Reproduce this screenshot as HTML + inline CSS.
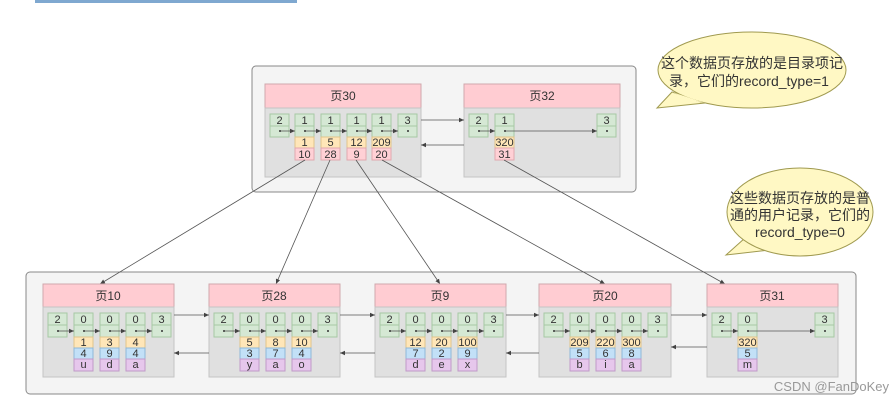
<!DOCTYPE html>
<html><head><meta charset="utf-8"><style>
html,body{margin:0;padding:0;background:#fff}
svg{display:block}
text{font-family:"Liberation Sans","Noto Sans CJK SC",sans-serif;font-size:11px;fill:#333;text-anchor:middle}
.g{fill:#d5e8d4;stroke:#a6c9a4;stroke-width:1}
.o{fill:#ffe6b8;stroke:#e0c48a;stroke-width:1}
.b{fill:#c2e0f7;stroke:#8fb8d8;stroke-width:1}
.p{fill:#e6c7ec;stroke:#c09ac8;stroke-width:1}
.r{fill:#ffd0d5;stroke:#e0a8ae;stroke-width:1}
.hd{fill:#ffccd2;stroke:#d0a8ad}
.bd{fill:#e0e0e0;stroke:#c4c4c4}
.ln{stroke:#555;stroke-width:0.8;fill:none}
.ht{font-size:12px}
.c{font-size:14px}
</style></head><body>
<svg width="893" height="404" viewBox="0 0 893 404" xmlns="http://www.w3.org/2000/svg">
<defs>
<marker id="a" markerWidth="6" markerHeight="6" refX="5" refY="3" orient="auto" markerUnits="userSpaceOnUse"><path d="M0,0.8 L5,3 L0,5.2z" fill="#444"/></marker>
</defs>
<rect x="35" y="0" width="262" height="3" fill="#7fa8d0"/>

<!-- top outer -->
<rect x="252" y="66" width="384" height="126" rx="4" fill="#f4f4f4" stroke="#888"/>
<rect class="hd" x="265" y="84" width="156" height="24"/><text class="ht" x="343" y="100">页30</text>
<rect class="bd" x="265" y="108" width="156" height="69"/>
<rect class="hd" x="464" y="84" width="156" height="24"/><text class="ht" x="542" y="100">页32</text>
<rect class="bd" x="464" y="108" width="156" height="69"/>

<g>
<rect class="g" x="270" y="114" width="19" height="12"/><rect class="g" x="270" y="126" width="19" height="11"/><text x="279.5" y="124">2</text>
<rect class="g" x="295" y="114" width="19" height="12"/><rect class="g" x="295" y="126" width="19" height="11"/><text x="304.5" y="124">1</text>
<rect class="g" x="321" y="114" width="19" height="12"/><rect class="g" x="321" y="126" width="19" height="11"/><text x="330.5" y="124">1</text>
<rect class="g" x="347" y="114" width="19" height="12"/><rect class="g" x="347" y="126" width="19" height="11"/><text x="356.5" y="124">1</text>
<rect class="g" x="372" y="114" width="19" height="12"/><rect class="g" x="372" y="126" width="19" height="11"/><text x="381.5" y="124">1</text>
<rect class="g" x="398" y="114" width="19" height="12"/><rect class="g" x="398" y="126" width="19" height="11"/><text x="407.5" y="124">3</text>
<rect class="o" x="295" y="137" width="19" height="11"/><rect class="r" x="295" y="148" width="19" height="12"/><text x="304.5" y="146">1</text><text x="304.5" y="158">10</text>
<rect class="o" x="321" y="137" width="19" height="11"/><rect class="r" x="321" y="148" width="19" height="12"/><text x="330.5" y="146">5</text><text x="330.5" y="158">28</text>
<rect class="o" x="347" y="137" width="19" height="11"/><rect class="r" x="347" y="148" width="19" height="12"/><text x="356.5" y="146">12</text><text x="356.5" y="158">9</text>
<rect class="o" x="372" y="137" width="19" height="11"/><rect class="r" x="372" y="148" width="19" height="12"/><text x="381.5" y="146">209</text><text x="381.5" y="158">20</text>
<path class="ln" marker-end="url(#a)" d="M280,131H295"/><path class="ln" marker-end="url(#a)" d="M305,131H321"/><path class="ln" marker-end="url(#a)" d="M331,131H347"/><path class="ln" marker-end="url(#a)" d="M357,131H372"/><path class="ln" marker-end="url(#a)" d="M382,131H398"/>
<g fill="#333"><circle cx="280" cy="131" r="1"/><circle cx="305" cy="131" r="1"/><circle cx="331" cy="131" r="1"/><circle cx="357" cy="131" r="1"/><circle cx="382" cy="131" r="1"/><circle cx="408" cy="131" r="1"/></g>

<rect class="g" x="469" y="114" width="19" height="12"/><rect class="g" x="469" y="126" width="19" height="11"/><text x="478.5" y="124">2</text>
<rect class="g" x="495" y="114" width="19" height="12"/><rect class="g" x="495" y="126" width="19" height="11"/><text x="504.5" y="124">1</text>
<rect class="g" x="597" y="114" width="19" height="12"/><rect class="g" x="597" y="126" width="19" height="11"/><text x="606.5" y="124">3</text>
<rect class="o" x="495" y="137" width="19" height="11"/><rect class="r" x="495" y="148" width="19" height="12"/><text x="504.5" y="146">320</text><text x="504.5" y="158">31</text>
<path class="ln" marker-end="url(#a)" d="M479,131H495"/><path class="ln" marker-end="url(#a)" d="M505,131H597"/>
<g fill="#333"><circle cx="479" cy="131" r="1"/><circle cx="505" cy="131" r="1"/><circle cx="607" cy="131" r="1"/></g>
<path class="ln" marker-end="url(#a)" d="M421,120H464"/><path class="ln" marker-end="url(#a)" d="M464,145H421"/>
</g>

<!-- callouts -->
<polygon points="672,92 657,108 705,103" fill="#fff8c4" stroke="#a09a50"/>
<ellipse cx="752" cy="70" rx="94" ry="38" fill="#fff8c4" stroke="#a09a50"/>
<polygon points="690,100 705,103 672,92" fill="#fff8c4"/>
<text class="c" x="752" y="68">这个数据页存放的是目录项记</text>
<text class="c" x="749" y="86">录，它们的record_type=1</text>

<polygon points="745,238 726,255 770,250" fill="#fff8c4" stroke="#a09a50"/>
<ellipse cx="800" cy="212" rx="73" ry="44" fill="#fff8c4" stroke="#a09a50"/>
<polygon points="748,240 770,249 760,244" fill="#fff8c4"/>
<text class="c" x="800" y="203">这些数据页存放的是普</text>
<text class="c" x="800" y="220">通的用户记录，它们的</text>
<text class="c" x="800" y="237">record_type=0</text>

<!-- bottom outer -->
<rect x="26" y="272" width="830" height="122" rx="4" fill="#f4f4f4" stroke="#888"/>

<path class="ln" marker-end="url(#a)" d="M305,160L100,284"/>
<path class="ln" marker-end="url(#a)" d="M330,160L276,284"/>
<path class="ln" marker-end="url(#a)" d="M356,160L440,284"/>
<path class="ln" marker-end="url(#a)" d="M382,160L605,284"/>
<path class="ln" marker-end="url(#a)" d="M504,160L725,284"/>

<g>
<rect class="hd" x="43" y="284" width="131" height="23"/><text class="ht" x="108" y="300">页10</text><rect class="bd" x="43" y="307" width="131" height="70"/>
<rect class="hd" x="209" y="284" width="131" height="23"/><text class="ht" x="274" y="300">页28</text><rect class="bd" x="209" y="307" width="131" height="70"/>
<rect class="hd" x="375" y="284" width="131" height="23"/><text class="ht" x="440" y="300">页9</text><rect class="bd" x="375" y="307" width="131" height="70"/>
<rect class="hd" x="539" y="284" width="132" height="23"/><text class="ht" x="605" y="300">页20</text><rect class="bd" x="539" y="307" width="132" height="70"/>
<rect class="hd" x="707" y="284" width="131" height="23"/><text class="ht" x="772" y="300">页31</text><rect class="bd" x="707" y="307" width="131" height="70"/>
</g>

<!-- page10 -->
<g>
<rect class="g" x="48" y="313" width="19" height="12"/><rect class="g" x="48" y="325" width="19" height="12"/><text x="57.5" y="323">2</text>
<rect class="g" x="74" y="313" width="19" height="12"/><rect class="g" x="74" y="325" width="19" height="12"/><text x="83.5" y="323">0</text>
<rect class="g" x="100" y="313" width="19" height="12"/><rect class="g" x="100" y="325" width="19" height="12"/><text x="109.5" y="323">0</text>
<rect class="g" x="126" y="313" width="19" height="12"/><rect class="g" x="126" y="325" width="19" height="12"/><text x="135.5" y="323">0</text>
<rect class="g" x="152" y="313" width="19" height="12"/><rect class="g" x="152" y="325" width="19" height="12"/><text x="161.5" y="323">3</text>
<rect class="o" x="74" y="337" width="19" height="11"/><rect class="b" x="74" y="348" width="19" height="11"/><rect class="p" x="74" y="359" width="19" height="12"/><text x="83.5" y="346">1</text><text x="83.5" y="357">4</text><text x="83.5" y="368">u</text>
<rect class="o" x="100" y="337" width="19" height="11"/><rect class="b" x="100" y="348" width="19" height="11"/><rect class="p" x="100" y="359" width="19" height="12"/><text x="109.5" y="346">3</text><text x="109.5" y="357">9</text><text x="109.5" y="368">d</text>
<rect class="o" x="126" y="337" width="19" height="11"/><rect class="b" x="126" y="348" width="19" height="11"/><rect class="p" x="126" y="359" width="19" height="12"/><text x="135.5" y="346">4</text><text x="135.5" y="357">4</text><text x="135.5" y="368">a</text>
<path class="ln" marker-end="url(#a)" d="M58,331H74"/><path class="ln" marker-end="url(#a)" d="M84,331H100"/><path class="ln" marker-end="url(#a)" d="M110,331H126"/><path class="ln" marker-end="url(#a)" d="M136,331H152"/>
<g fill="#333"><circle cx="58" cy="331" r="1"/><circle cx="84" cy="331" r="1"/><circle cx="110" cy="331" r="1"/><circle cx="136" cy="331" r="1"/><circle cx="162" cy="331" r="1"/></g>
</g>
<!-- page28 -->
<g>
<rect class="g" x="214" y="313" width="19" height="12"/><rect class="g" x="214" y="325" width="19" height="12"/><text x="223.5" y="323">2</text>
<rect class="g" x="240" y="313" width="19" height="12"/><rect class="g" x="240" y="325" width="19" height="12"/><text x="249.5" y="323">0</text>
<rect class="g" x="266" y="313" width="19" height="12"/><rect class="g" x="266" y="325" width="19" height="12"/><text x="275.5" y="323">0</text>
<rect class="g" x="292" y="313" width="19" height="12"/><rect class="g" x="292" y="325" width="19" height="12"/><text x="301.5" y="323">0</text>
<rect class="g" x="318" y="313" width="19" height="12"/><rect class="g" x="318" y="325" width="19" height="12"/><text x="327.5" y="323">3</text>
<rect class="o" x="240" y="337" width="19" height="11"/><rect class="b" x="240" y="348" width="19" height="11"/><rect class="p" x="240" y="359" width="19" height="12"/><text x="249.5" y="346">5</text><text x="249.5" y="357">3</text><text x="249.5" y="368">y</text>
<rect class="o" x="266" y="337" width="19" height="11"/><rect class="b" x="266" y="348" width="19" height="11"/><rect class="p" x="266" y="359" width="19" height="12"/><text x="275.5" y="346">8</text><text x="275.5" y="357">7</text><text x="275.5" y="368">a</text>
<rect class="o" x="292" y="337" width="19" height="11"/><rect class="b" x="292" y="348" width="19" height="11"/><rect class="p" x="292" y="359" width="19" height="12"/><text x="301.5" y="346">10</text><text x="301.5" y="357">4</text><text x="301.5" y="368">o</text>
<path class="ln" marker-end="url(#a)" d="M224,331H240"/><path class="ln" marker-end="url(#a)" d="M250,331H266"/><path class="ln" marker-end="url(#a)" d="M276,331H292"/><path class="ln" marker-end="url(#a)" d="M302,331H318"/>
<g fill="#333"><circle cx="224" cy="331" r="1"/><circle cx="250" cy="331" r="1"/><circle cx="276" cy="331" r="1"/><circle cx="302" cy="331" r="1"/><circle cx="328" cy="331" r="1"/></g>
</g>
<!-- page9 -->
<g>
<rect class="g" x="380" y="313" width="19" height="12"/><rect class="g" x="380" y="325" width="19" height="12"/><text x="389.5" y="323">2</text>
<rect class="g" x="406" y="313" width="19" height="12"/><rect class="g" x="406" y="325" width="19" height="12"/><text x="415.5" y="323">0</text>
<rect class="g" x="432" y="313" width="19" height="12"/><rect class="g" x="432" y="325" width="19" height="12"/><text x="441.5" y="323">0</text>
<rect class="g" x="458" y="313" width="19" height="12"/><rect class="g" x="458" y="325" width="19" height="12"/><text x="467.5" y="323">0</text>
<rect class="g" x="484" y="313" width="19" height="12"/><rect class="g" x="484" y="325" width="19" height="12"/><text x="493.5" y="323">3</text>
<rect class="o" x="406" y="337" width="19" height="11"/><rect class="b" x="406" y="348" width="19" height="11"/><rect class="p" x="406" y="359" width="19" height="12"/><text x="415.5" y="346">12</text><text x="415.5" y="357">7</text><text x="415.5" y="368">d</text>
<rect class="o" x="432" y="337" width="19" height="11"/><rect class="b" x="432" y="348" width="19" height="11"/><rect class="p" x="432" y="359" width="19" height="12"/><text x="441.5" y="346">20</text><text x="441.5" y="357">2</text><text x="441.5" y="368">e</text>
<rect class="o" x="458" y="337" width="19" height="11"/><rect class="b" x="458" y="348" width="19" height="11"/><rect class="p" x="458" y="359" width="19" height="12"/><text x="467.5" y="346">100</text><text x="467.5" y="357">9</text><text x="467.5" y="368">x</text>
<path class="ln" marker-end="url(#a)" d="M390,331H406"/><path class="ln" marker-end="url(#a)" d="M416,331H432"/><path class="ln" marker-end="url(#a)" d="M442,331H458"/><path class="ln" marker-end="url(#a)" d="M468,331H484"/>
<g fill="#333"><circle cx="390" cy="331" r="1"/><circle cx="416" cy="331" r="1"/><circle cx="442" cy="331" r="1"/><circle cx="468" cy="331" r="1"/><circle cx="494" cy="331" r="1"/></g>
</g>
<!-- page20 -->
<g>
<rect class="g" x="544" y="313" width="19" height="12"/><rect class="g" x="544" y="325" width="19" height="12"/><text x="553.5" y="323">2</text>
<rect class="g" x="570" y="313" width="19" height="12"/><rect class="g" x="570" y="325" width="19" height="12"/><text x="579.5" y="323">0</text>
<rect class="g" x="596" y="313" width="19" height="12"/><rect class="g" x="596" y="325" width="19" height="12"/><text x="605.5" y="323">0</text>
<rect class="g" x="622" y="313" width="19" height="12"/><rect class="g" x="622" y="325" width="19" height="12"/><text x="631.5" y="323">0</text>
<rect class="g" x="648" y="313" width="19" height="12"/><rect class="g" x="648" y="325" width="19" height="12"/><text x="657.5" y="323">3</text>
<rect class="o" x="570" y="337" width="19" height="11"/><rect class="b" x="570" y="348" width="19" height="11"/><rect class="p" x="570" y="359" width="19" height="12"/><text x="579.5" y="346">209</text><text x="579.5" y="357">5</text><text x="579.5" y="368">b</text>
<rect class="o" x="596" y="337" width="19" height="11"/><rect class="b" x="596" y="348" width="19" height="11"/><rect class="p" x="596" y="359" width="19" height="12"/><text x="605.5" y="346">220</text><text x="605.5" y="357">6</text><text x="605.5" y="368">i</text>
<rect class="o" x="622" y="337" width="19" height="11"/><rect class="b" x="622" y="348" width="19" height="11"/><rect class="p" x="622" y="359" width="19" height="12"/><text x="631.5" y="346">300</text><text x="631.5" y="357">8</text><text x="631.5" y="368">a</text>
<path class="ln" marker-end="url(#a)" d="M554,331H570"/><path class="ln" marker-end="url(#a)" d="M580,331H596"/><path class="ln" marker-end="url(#a)" d="M606,331H622"/><path class="ln" marker-end="url(#a)" d="M632,331H648"/>
<g fill="#333"><circle cx="554" cy="331" r="1"/><circle cx="580" cy="331" r="1"/><circle cx="606" cy="331" r="1"/><circle cx="632" cy="331" r="1"/><circle cx="658" cy="331" r="1"/></g>
</g>
<!-- page31 -->
<g>
<rect class="g" x="712" y="313" width="19" height="12"/><rect class="g" x="712" y="325" width="19" height="12"/><text x="721.5" y="323">2</text>
<rect class="g" x="738" y="313" width="19" height="12"/><rect class="g" x="738" y="325" width="19" height="12"/><text x="747.5" y="323">0</text>
<rect class="g" x="815" y="313" width="19" height="12"/><rect class="g" x="815" y="325" width="19" height="12"/><text x="824.5" y="323">3</text>
<rect class="o" x="738" y="337" width="19" height="11"/><rect class="b" x="738" y="348" width="19" height="11"/><rect class="p" x="738" y="359" width="19" height="12"/><text x="747.5" y="346">320</text><text x="747.5" y="357">5</text><text x="747.5" y="368">m</text>
<path class="ln" marker-end="url(#a)" d="M722,331H738"/><path class="ln" marker-end="url(#a)" d="M748,331H815"/>
<g fill="#333"><circle cx="722" cy="331" r="1"/><circle cx="748" cy="331" r="1"/><circle cx="825" cy="331" r="1"/></g>
</g>

<!-- sibling arrows -->
<path class="ln" marker-end="url(#a)" d="M174,315H209"/><path class="ln" marker-end="url(#a)" d="M209,353H174"/>
<path class="ln" marker-end="url(#a)" d="M340,315H375"/><path class="ln" marker-end="url(#a)" d="M375,353H340"/>
<path class="ln" marker-end="url(#a)" d="M506,315H539"/><path class="ln" marker-end="url(#a)" d="M539,353H506"/>
<path class="ln" marker-end="url(#a)" d="M671,315H707"/><path class="ln" marker-end="url(#a)" d="M707,347H671"/>

<text x="889" y="391" style="font-size:13px;fill:#999;text-anchor:end">CSDN @FanDoKey</text>
</svg>
</body></html>
